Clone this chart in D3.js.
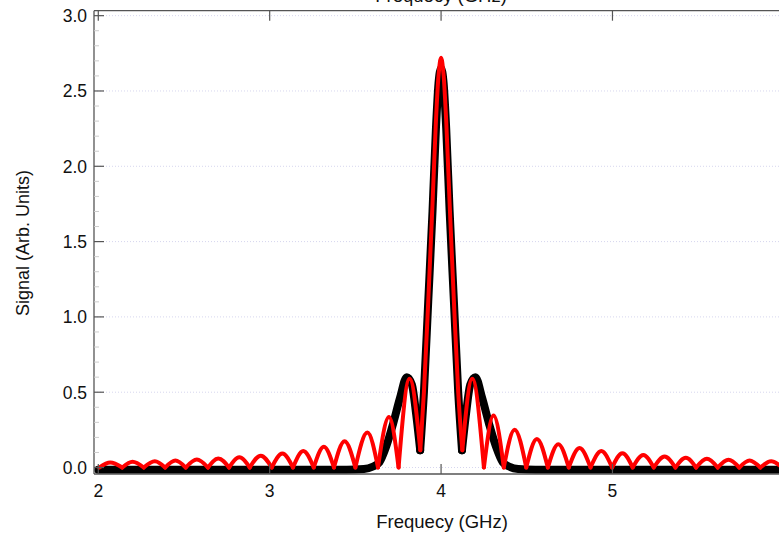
<!DOCTYPE html>
<html>
<head>
<meta charset="utf-8">
<script src="https://cdn.jsdelivr.net/npm/d3@7/dist/d3.min.js"></script>
<style>
  html, body { margin: 0; padding: 0; background: #fff; overflow: hidden; }
  svg { display: block; font-family: "Liberation Sans", Arial, sans-serif; }
</style>
</head>
<body>
<div id="chart"></div>
<script>
// Tick values
const xTicks = [2, 3, 4, 5];
const yTicks = [0.0, 0.5, 1.0, 1.5, 2.0, 2.5, 3.0];

const redX = [2.005, 2.07, 2.14, 2.2, 2.265, 2.33, 2.39, 2.45, 2.51, 2.575, 2.64, 2.70, 2.763, 2.823, 2.884, 2.948, 3.012,
  3.074, 3.136, 3.196, 3.257, 3.316, 3.375, 3.437, 3.50, 3.57, 3.632, 3.696, 3.752, 3.816, 3.879,
  3.90, 3.925, 3.95, 3.97, 3.985, 4.0, 4.015, 4.03, 4.05, 4.075, 4.10, 4.124,
  4.182, 4.25, 4.306, 4.366, 4.429, 4.497, 4.559, 4.623, 4.684, 4.745, 4.808, 4.872, 4.935, 4.998,
  5.058, 5.118, 5.18, 5.241, 5.304, 5.367, 5.428, 5.488, 5.551, 5.614, 5.677, 5.74, 5.80, 5.863, 5.926, 5.99];
const redY = [0, 0.034, 0, 0.038, 0, 0.042, 0, 0.047, 0, 0.053, 0, 0.06, 0, 0.068, 0, 0.079, 0,
  0.093, 0, 0.11, 0, 0.138, 0, 0.175, 0, 0.232, 0, 0.335, 0, 0.59, 0.115,
  0.5, 1.1, 1.75, 2.3, 2.6, 2.72, 2.6, 2.3, 1.75, 1.1, 0.5, 0.115,
  0.59, 0, 0.345, 0, 0.25, 0, 0.19, 0, 0.155, 0, 0.13, 0, 0.11, 0,
  0.095, 0, 0.083, 0, 0.073, 0, 0.065, 0, 0.058, 0, 0.052, 0, 0.047, 0, 0.042, 0];

// Black trace (model)
const blackX = [2.0, 3.45, 3.55, 3.6, 3.64, 3.68, 3.72, 3.76, 3.80, 3.83, 3.855, 3.878,
  3.90, 3.925, 3.95, 3.97, 3.985, 4.0, 4.015, 4.03, 4.05, 4.075, 4.10, 4.122,
  4.145, 4.17, 4.2, 4.24, 4.28, 4.32, 4.36, 4.4, 4.45, 4.55, 6.0];
const blackY = [-0.015, -0.015, -0.01, 0.005, 0.035, 0.14, 0.29, 0.46, 0.60, 0.55, 0.35, 0.115,
  0.5, 1.1, 1.7, 2.25, 2.55, 2.65, 2.55, 2.25, 1.7, 1.1, 0.5, 0.115,
  0.35, 0.55, 0.60, 0.46, 0.29, 0.14, 0.035, 0.005, -0.01, -0.015, -0.015];

const width = 779, height = 533;
const plotLeft = 94, plotTop = 10.7, plotBottom = 474, plotRight = 789;

const svg = d3.select('#chart').append('svg')
  .attr('width', width)
  .attr('height', height);

const x = d3.scaleLinear().domain([1.975, 6.03]).range([plotLeft, plotRight]);
const y = d3.scaleLinear().domain([-0.043, 3.033]).range([plotBottom, plotTop]);

svg.append('clipPath').attr('id', 'plot')
  .append('rect').attr('x', plotLeft).attr('y', plotTop)
  .attr('width', plotRight - plotLeft).attr('height', plotBottom - plotTop);

// faint dotted grid at major y ticks
svg.append('g').selectAll('line')
  .data(yTicks)
  .join('line')
  .attr('x1', plotLeft).attr('x2', plotRight)
  .attr('y1', d => y(d)).attr('y2', d => y(d))
  .attr('stroke', '#d6d6ee')
  .attr('stroke-width', 1)
  .attr('stroke-dasharray', '1,2');

// split a trace into pieces at sharp minima so the cusps stay sharp
function pieces(xs, ys) {
  const out = [];
  let cur = [];
  xs.forEach((v, i) => {
    cur.push([v, ys[i]]);
    const isMin = i > 0 && i < xs.length - 1 && ys[i] < ys[i - 1] && ys[i] < ys[i + 1];
    if (isMin) { out.push(cur); cur = [[v, ys[i]]]; }
  });
  if (cur.length > 1) out.push(cur);
  return out;
}

const line = d3.line()
  .x(d => x(d[0]))
  .y(d => y(d[1]))
  .curve(d3.curveMonotoneX);

const plot = svg.append('g').attr('clip-path', 'url(#plot)');

plot.selectAll('path.black')
  .data(pieces(blackX, blackY))
  .join('path')
  .attr('class', 'black')
  .attr('d', line)
  .attr('fill', 'none')
  .attr('stroke', '#000')
  .attr('stroke-width', 8)
  .attr('stroke-linecap', 'round')
  .attr('stroke-linejoin', 'round');

plot.selectAll('path.red')
  .data(pieces(redX, redY))
  .join('path')
  .attr('class', 'red')
  .attr('d', line)
  .attr('fill', 'none')
  .attr('stroke', '#ff0000')
  .attr('stroke-width', 4)
  .attr('stroke-linecap', 'round')
  .attr('stroke-linejoin', 'round');

// frame
const axisColor = '#555';
svg.append('line').attr('x1', plotLeft).attr('x2', plotRight).attr('y1', plotBottom).attr('y2', plotBottom)
  .attr('stroke', axisColor).attr('stroke-width', 1.3);
svg.append('line').attr('x1', plotLeft).attr('x2', plotRight).attr('y1', plotTop).attr('y2', plotTop)
  .attr('stroke', axisColor).attr('stroke-width', 1.3);
svg.append('line').attr('x1', plotLeft).attr('x2', plotLeft).attr('y1', plotTop).attr('y2', plotBottom)
  .attr('stroke', axisColor).attr('stroke-width', 1.3);

// minor y ticks
const yMinor = d3.range(0, 3.001, 0.1).filter(v => Math.abs(v * 2 - Math.round(v * 2)) > 1e-6);
svg.append('g').selectAll('line')
  .data(yMinor)
  .join('line')
  .attr('x1', plotLeft).attr('x2', plotLeft + 5)
  .attr('y1', d => y(d)).attr('y2', d => y(d))
  .attr('stroke', '#ccc');

// major ticks
svg.append('g').selectAll('line')
  .data(yTicks)
  .join('line')
  .attr('x1', plotLeft).attr('x2', plotLeft + 10)
  .attr('y1', d => y(d)).attr('y2', d => y(d))
  .attr('stroke', axisColor).attr('stroke-width', 1.2);

svg.append('g').selectAll('line')
  .data(xTicks)
  .join('line')
  .attr('x1', d => x(d)).attr('x2', d => x(d))
  .attr('y1', plotBottom).attr('y2', plotBottom - 10)
  .attr('stroke', axisColor).attr('stroke-width', 1.2);

svg.append('g').selectAll('line')
  .data(xTicks)
  .join('line')
  .attr('x1', d => x(d)).attr('x2', d => x(d))
  .attr('y1', plotTop).attr('y2', plotTop + 10)
  .attr('stroke', axisColor).attr('stroke-width', 1.2);

// tick labels
svg.append('g').selectAll('text')
  .data(yTicks)
  .join('text')
  .attr('x', plotLeft - 7)
  .attr('y', d => y(d))
  .attr('dy', '0.36em')
  .attr('text-anchor', 'end')
  .style('font-size', '17.5px')
  .attr('fill', '#111')
  .text(d => d.toFixed(1));

svg.append('g').selectAll('text')
  .data(xTicks)
  .join('text')
  .attr('x', d => x(d))
  .attr('y', 497)
  .attr('text-anchor', 'middle')
  .style('font-size', '17.5px')
  .attr('fill', '#111')
  .text(d => d);

// axis titles
svg.append('text')
  .attr('x', x(4) + 1).attr('y', 528)
  .attr('text-anchor', 'middle')
  .style('font-size', '18.5px')
  .attr('fill', '#111')
  .text('Frequecy (GHz)');

svg.append('text')
  .attr('x', x(4)).attr('y', 2)
  .attr('text-anchor', 'middle')
  .style('font-size', '18.5px')
  .attr('fill', '#111')
  .text('Frequecy (GHz)');

svg.append('text')
  .attr('transform', 'translate(29,243) rotate(-90)')
  .attr('text-anchor', 'middle')
  .style('font-size', '18px')
  .attr('fill', '#111')
  .text('Signal (Arb. Units)');
</script>
</body>
</html>
